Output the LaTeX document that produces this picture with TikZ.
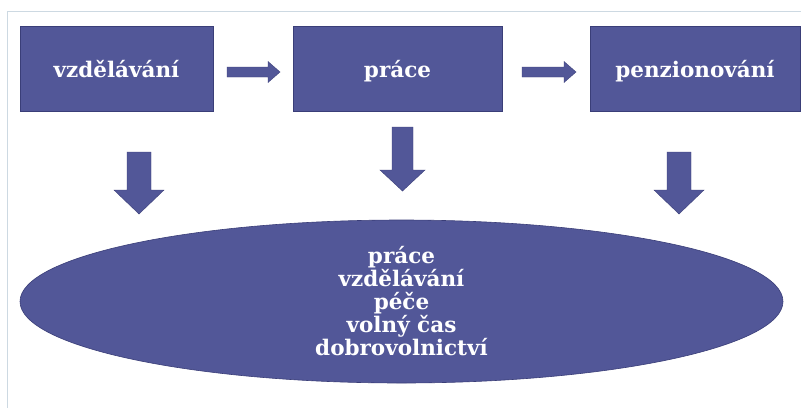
\documentclass[tikz,border=0pt]{standalone}
\usepackage{fontspec}
\setmainfont{DejaVu Serif}
\usetikzlibrary{shapes.geometric}
\definecolor{boxfill}{RGB}{82,87,152}
\definecolor{boxline}{RGB}{58,62,120}
\definecolor{frameline}{RGB}{205,217,226}
\tikzset{
  stagebox/.style={rectangle, fill=boxfill, draw=boxline, line width=0.6pt,
    minimum height=85pt, inner sep=0pt, text=white,
    font=\fontsize{21.5}{23}\selectfont\bfseries},
  bigoval/.style={ellipse, fill=boxfill, draw=boxline, line width=0.6pt,
    minimum width=763pt, minimum height=163pt, inner sep=0pt, text=white,
    align=center, font=\fontsize{21.5}{23}\selectfont\bfseries},
  blockarrow/.style={fill=boxfill, draw=boxline, line width=0.4pt, line join=miter},
  % block arrow pointing down: shaft half width, head half width, shaft length, head length
  pics/downarrow/.style n args={4}{code={
    \path[blockarrow] (-#1,0) -- (#1,0) -- (#1,#3) -- (#2,#3) -- (0,#3+#4)
      -- (-#2,#3) -- (-#1,#3) -- cycle;}},
  % block arrow pointing right
  pics/rightarrow/.style n args={4}{code={
    \path[blockarrow] (0,-#1) -- (0,#1) -- (#3,#1) -- (#3,#2) -- (#3+#4,0)
      -- (#3,-#2) -- (#3,-#1) -- cycle;}}
}
\begin{document}
\begin{tikzpicture}[x=1pt, y=-1pt]
  \useasboundingbox (0,0) rectangle (801,408);
  \fill[white] (0,0) rectangle (801,408);
  % frame lines
  \draw[frameline, line width=1.4pt] (801,11.5) -- (7.5,11.5) -- (7.5,408);

  % stages
  \node[stagebox, minimum width=193pt] (edu) at (116.5,68.5) {};
  \node[stagebox, minimum width=209pt] (work) at (397.5,68.5) {};
  \node[stagebox, minimum width=210pt] (pension) at (695,68.5) {};
  \node[text=white, font=\fontsize{21.5}{23}\selectfont\bfseries, anchor=base, inner sep=0pt]
    (edut) at (116.5,77) {vzdělávání};
  \node[text=white, font=\fontsize{21.5}{23}\selectfont\bfseries, anchor=base, inner sep=0pt]
    (workt) at (397.5,77) {práce};
  \node[text=white, font=\fontsize{21.5}{23}\selectfont\bfseries, anchor=base, inner sep=0pt]
    (pensiont) at (695,77) {penzionování};

  % arrows between stages
  \pic at (227,72) {rightarrow={5}{10.5}{41}{12}};
  \pic at (522,72) {rightarrow={5}{10.5}{42}{12}};

  % arrows down to the activities
  \pic at (139,152) {downarrow={12}{25}{38}{24}};
  \pic at (402.5,127) {downarrow={10.5}{22.5}{43}{21}};
  \pic at (679,152) {downarrow={12}{25}{38}{24}};

  % activities throughout life
  \node[bigoval] (life) at (401.5,301.5)
    {práce\\vzdělávání\\péče\\volný čas\\dobrovolnictví};
\end{tikzpicture}
\end{document}
